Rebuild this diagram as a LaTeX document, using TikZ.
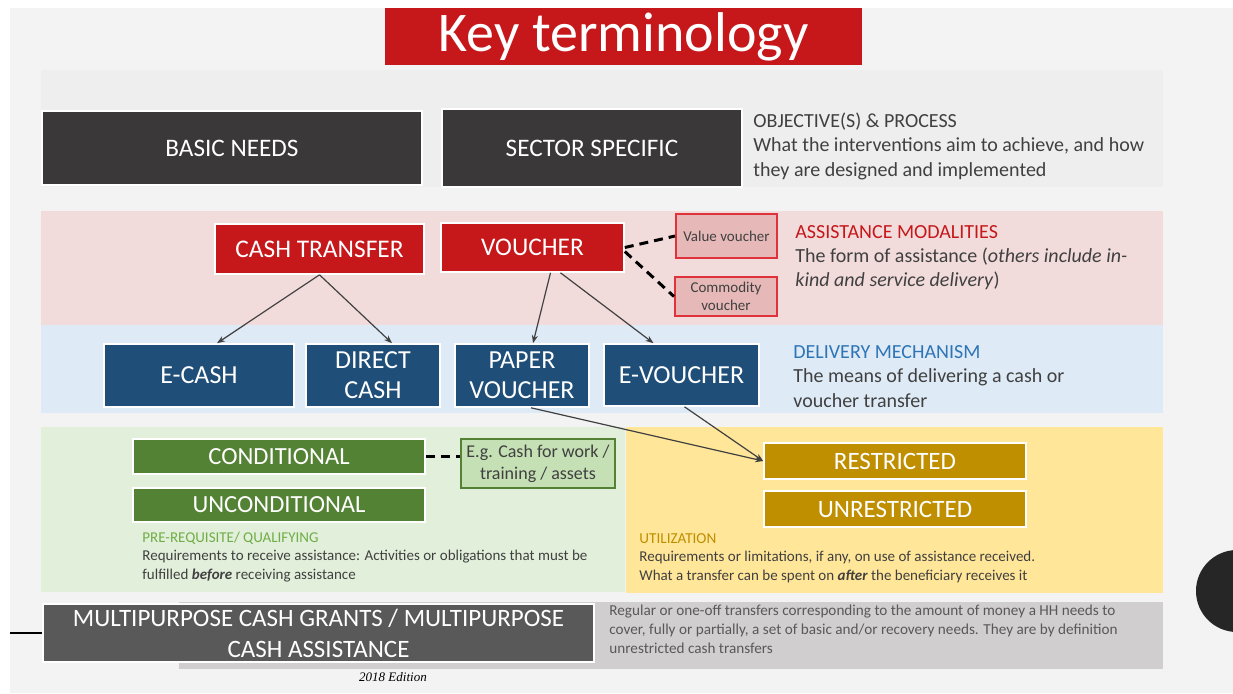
\documentclass[tikz,border=0pt]{standalone}
\usepackage{fontspec}
\setmainfont{Carlito}
\newfontfamily\edfont{Liberation Serif}
\usetikzlibrary{arrows.meta}

\definecolor{pagegray}{HTML}{F3F3F3}
\definecolor{bandgray}{HTML}{EEEEEE}
\definecolor{keyred}{HTML}{C6171B}
\definecolor{darkbox}{HTML}{3A3838}
\definecolor{pinkband}{HTML}{F2DCDB}
\definecolor{pinkbox}{HTML}{E6B9B8}
\definecolor{pinkline}{HTML}{E0323A}
\definecolor{blueband}{HTML}{DEEAF6}
\definecolor{navy}{HTML}{1F4E79}
\definecolor{bluehead}{HTML}{2E75B6}
\definecolor{greenband}{HTML}{E2EFDA}
\definecolor{greenbox}{HTML}{548235}
\definecolor{lightgreen}{HTML}{C5E0B4}
\definecolor{greenhead}{HTML}{70AD47}
\definecolor{yellowband}{HTML}{FFE699}
\definecolor{gold}{HTML}{BF8F00}
\definecolor{panelgray}{HTML}{D0CECE}
\definecolor{mpcgray}{HTML}{595959}
\definecolor{txtgray}{HTML}{404040}
\definecolor{dotgray}{HTML}{262626}

\tikzset{
  box/.style={draw=white, line width=0.8pt, text=white, inner sep=0pt, align=center},
  subbox/.style={line width=1pt, text=txtgray, inner sep=0pt, align=center},
  head/.style={anchor=west, inner sep=0pt, font=\fontsize{10}{12}\selectfont},
  desc/.style={anchor=west, inner sep=0pt, align=left, text=txtgray},
  link/.style={draw=txtgray, line width=0.6pt, -{Stealth[length=4pt,width=3pt]}},
  dashlink/.style={line width=1.5pt, dash pattern=on 4.5pt off 3pt}
}

\begin{document}
\begin{tikzpicture}[x=0.5pt,y=-0.5pt]
\useasboundingbox (0,0) rectangle (1233,693);
\fill[white] (0,0) rectangle (1233,693);
\fill[pagegray] (10,8) rectangle (1233,693);
\fill[dotgray] (1237,591) circle (20.5pt);

% Bands
\fill[bandgray] (41,70) rectangle (1163,187);
\fill[pinkband] (41,211) rectangle (1163,325);
\fill[blueband] (41,325) rectangle (1163,413);
\fill[greenband] (41,427) rectangle (625,592);
\fill[yellowband] (626,427) rectangle (1163,593);
\fill[panelgray] (179,602) rectangle (1163,669);

% Title
\node[box, draw=none, fill=keyred, minimum width=238.5pt, minimum height=28.5pt,
  font=\fontsize{28}{30}\selectfont] (title) at (623.5,36.5) {Key terminology};

% Objectives
\node[box, fill=darkbox, minimum width=190pt, minimum height=37pt,
  font=\fontsize{12.6}{14}\selectfont] (basic) at (232,148) {BASIC NEEDS};
\node[box, fill=darkbox, minimum width=150pt, minimum height=39pt,
  font=\fontsize{12.6}{14}\selectfont] (sector) at (592,148) {SECTOR SPECIFIC};

\node[head, text=txtgray] (objhead) at (753,122) {OBJECTIVE(S) \& PROCESS};
\node[desc, font=\fontsize{10}{12.25}\selectfont] (objtext) at (753,159)
  {What the interventions aim to achieve, and how\\they are designed and implemented};

% Modalities
\node[box, fill=keyred, minimum width=104.5pt, minimum height=25pt,
  font=\fontsize{12.7}{14}\selectfont] (cash) at (319.5,249) {CASH TRANSFER};
\node[box, fill=keyred, minimum width=91.5pt, minimum height=24.5pt,
  font=\fontsize{12.7}{14}\selectfont] (voucher) at (532.5,247.5) {VOUCHER};
\node[subbox, fill=pinkbox, draw=pinkline, minimum width=50.5pt, minimum height=22pt,
  font=\fontsize{7.5}{9}\selectfont] (value) at (726.5,236) {Value voucher};
\node[subbox, fill=pinkbox, draw=pinkline, minimum width=51pt, minimum height=19.5pt,
  font=\fontsize{7.5}{9}\selectfont] (commodity) at (726,296.5) {Commodity\\voucher};

\draw[dashlink] (voucher.east) -- (value.west);
\draw[dashlink] ([yshift=-2pt]voucher.east) -- (commodity.west);

\node[head, text=keyred] (modhead) at (795,232) {ASSISTANCE MODALITIES};
\node[desc, font=\fontsize{10}{12.25}\selectfont] (modtext) at (795,269)
  {The form of assistance (\emph{others include in-}\\\emph{kind and service delivery})};

% Delivery
\node[box, fill=navy, minimum width=95pt, minimum height=31.5pt,
  font=\fontsize{13}{15}\selectfont] (ecash) at (199,375.5) {E-CASH};
\node[box, fill=navy, minimum width=67pt, minimum height=31.5pt,
  font=\fontsize{13}{15}\selectfont] (direct) at (373,375.5) {DIRECT\\CASH};
\node[box, fill=navy, minimum width=67pt, minimum height=31.5pt,
  font=\fontsize{13}{15}\selectfont] (paper) at (522,375.5) {PAPER\\VOUCHER};
\node[box, fill=navy, minimum width=77.5pt, minimum height=31pt,
  font=\fontsize{13}{15}\selectfont] (evoucher) at (681.5,375) {E-VOUCHER};

\draw[link] (cash.south) -- ([xshift=9pt]ecash.north);
\draw[link] (cash.south) -- ([xshift=9.5pt]direct.north);
\draw[link] ([xshift=9pt]voucher.south) -- ([xshift=5.5pt]paper.north);
\draw[link] ([xshift=14pt]voucher.south) -- ([xshift=-14pt]evoucher.north);

\node[head, text=bluehead] (delhead) at (793,352) {DELIVERY MECHANISM};
\node[desc, font=\fontsize{10}{12.25}\selectfont] (deltext) at (793,388)
  {The means of delivering a cash or\\voucher transfer};

% Conditionality
\node[box, fill=greenbox, minimum width=146pt, minimum height=17.5pt,
  font=\fontsize{12.3}{14}\selectfont] (cond) at (279,456.5) {CONDITIONAL};
\node[box, fill=greenbox, minimum width=146pt, minimum height=17pt,
  font=\fontsize{12.3}{14}\selectfont] (uncond) at (279,505) {UNCONDITIONAL};
\node[subbox, fill=lightgreen, draw=greenbox, minimum width=77pt, minimum height=24.5pt,
  font=\fontsize{9}{11}\selectfont] (example) at (538,463.5) {E.g. Cash for work /\\training / assets};

\draw[dashlink] (cond.east) -- (cond.east -| example.west);

\node[head, text=greenhead, font=\fontsize{7.5}{9}\selectfont] (prehead) at (142,538)
  {PRE-REQUISITE/ QUALIFYING};
\node[desc, font=\fontsize{7.5}{9.5}\selectfont] (pretext) at (142,566.5)
  {Requirements to receive assistance: Activities or obligations that must be\\
   fulfilled \textbf{\emph{before}} receiving assistance};

% Utilization
\node[box, fill=gold, minimum width=131pt, minimum height=18pt,
  font=\fontsize{12.5}{14}\selectfont] (restr) at (895,461) {RESTRICTED};
\node[box, fill=gold, minimum width=131pt, minimum height=18pt,
  font=\fontsize{12.5}{14}\selectfont] (unrestr) at (895,509) {UNRESTRICTED};

\draw[link] ([xshift=4.5pt]paper.south) -- (restr.west);
\draw[link] ([xshift=1.5pt]evoucher.south) -- (restr.west);

\node[head, text=gold, font=\fontsize{7.6}{9}\selectfont] (utilhead) at (639,539) {UTILIZATION};
\node[desc, font=\fontsize{7.5}{9.5}\selectfont] (utiltext) at (639,566.5)
  {Requirements or limitations, if any, on use of assistance received.\\
   What a transfer can be spent on \textbf{\emph{after}} the beneficiary receives it};

% Multipurpose
\node[box, fill=mpcgray, minimum width=275.5pt, minimum height=29pt,
  font=\fontsize{12.5}{15.5}\selectfont] (mpcg) at (318.5,633)
  {MULTIPURPOSE CASH GRANTS / MULTIPURPOSE\\CASH ASSISTANCE};
\node[desc, text=mpcgray, font=\fontsize{7.6}{9.5}\selectfont] (mpctext) at (609,629)
  {Regular or one-off transfers corresponding to the amount of money a HH needs to\\
   cover, fully or partially, a set of basic and/or recovery needs. They are by definition\\
   unrestricted cash transfers};

\coordinate (lefttick) at (10,633);
\draw[line width=1pt] (lefttick) -- (mpcg.west);

\node[inner sep=0pt, font=\edfont\itshape\fontsize{6.5}{8}\selectfont] (edition) at (393,677) {2018 Edition};

\end{tikzpicture}
\end{document}
